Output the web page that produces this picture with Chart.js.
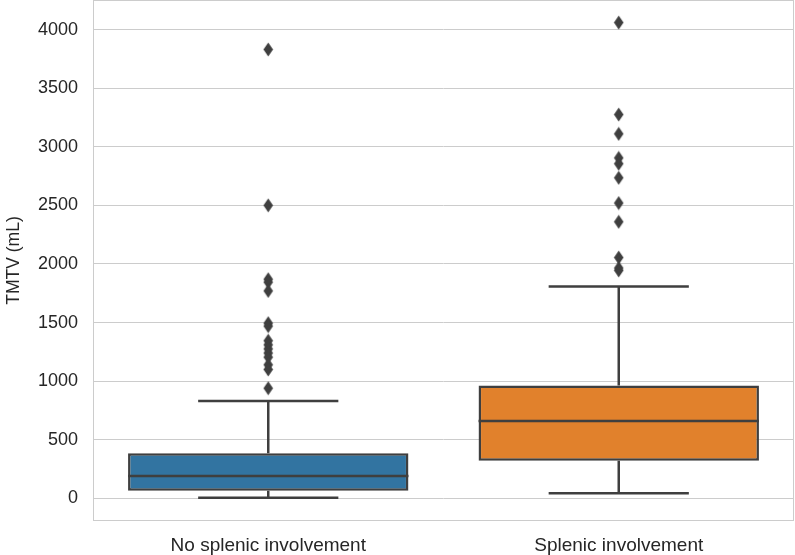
<!DOCTYPE html>
<html>
<head>
<meta charset="utf-8">
<script src="https://cdn.jsdelivr.net/npm/chart.js@4.4.1/dist/chart.umd.min.js"></script>
<style>
  html, body { margin: 0; padding: 0; background: #ffffff; }
  #wrap { width: 795px; height: 555px; }
</style>
</head>
<body>
<div id="wrap"><canvas id="box-chart" width="795" height="555"></canvas></div>
<script>
const groups = ["No splenic involvement", "Splenic involvement"];
const boxColors = ["#3274a1", "#e1812c"];

// box stats (mL)
const q1Values = [66, 322];
const q3Values = [385, 962];
const medianValues = [191, 660];
const whiskerLow = [6, 43];
const whiskerHigh = [831, 1807];

const outliersNoSplenic = [3830, 2500, 1870, 1845, 1770, 1495, 1470, 1345, 1310, 1275, 1240, 1205, 1140, 1100, 940];
const outliersSplenic = [4060, 3275, 3110, 2905, 2855, 2735, 2520, 2360, 2055, 1965, 1945];

const yTicks = [0, 500, 1000, 1500, 2000, 2500, 3000, 3500, 4000];

const lineColor = "#3f3f3f";
const gridColor = "#cccccc";
const textColor = "#262626";
const fontFamily = "Liberation Sans, Arial, sans-serif";

function makeDiamond() {
  const c = document.createElement("canvas");
  c.width = 11;
  c.height = 15;
  const g = c.getContext("2d");
  g.fillStyle = lineColor;
  g.beginPath();
  g.moveTo(5.5, 0.5);
  g.lineTo(10.3, 7.5);
  g.lineTo(5.5, 14.5);
  g.lineTo(0.7, 7.5);
  g.closePath();
  g.fill();
  return c;
}
const diamond = makeDiamond();

const boxPlugin = {
  id: "boxParts",
  beforeDatasetsDraw(chart) {
    const { ctx, chartArea, scales } = chart;
    const meta = chart.getDatasetMeta(0);
    ctx.save();
    // frame (spines)
    ctx.strokeStyle = gridColor;
    ctx.lineWidth = 1;
    ctx.strokeRect(chartArea.left + 0.5, chartArea.top + 0.5,
      chartArea.right - chartArea.left - 1, chartArea.bottom - chartArea.top - 1);

    // whiskers and caps
    ctx.strokeStyle = lineColor;
    ctx.lineWidth = 2.5;
    meta.data.forEach((bar, i) => {
      const x = bar.x;
      const capHalf = bar.width / 4;
      const yq1 = scales.y.getPixelForValue(q1Values[i]);
      const yq3 = scales.y.getPixelForValue(q3Values[i]);
      const yLo = scales.y.getPixelForValue(whiskerLow[i]);
      const yHi = scales.y.getPixelForValue(whiskerHigh[i]);
      ctx.beginPath();
      ctx.moveTo(x, yq3);
      ctx.lineTo(x, yHi);
      ctx.moveTo(x, yq1);
      ctx.lineTo(x, yLo);
      ctx.moveTo(x - capHalf, yHi);
      ctx.lineTo(x + capHalf, yHi);
      ctx.moveTo(x - capHalf, yLo);
      ctx.lineTo(x + capHalf, yLo);
      ctx.stroke();
    });
    ctx.restore();
  },
  afterDatasetDraw(chart, args) {
    if (args.index !== 0) return;
    const { ctx, scales } = chart;
    const meta = chart.getDatasetMeta(0);
    ctx.save();
    ctx.strokeStyle = lineColor;
    ctx.lineWidth = 2.5;
    meta.data.forEach((bar, i) => {
      const y = scales.y.getPixelForValue(medianValues[i]);
      ctx.beginPath();
      ctx.moveTo(bar.x - bar.width / 2, y);
      ctx.lineTo(bar.x + bar.width / 2, y);
      ctx.stroke();
    });
    ctx.restore();
  },
};

const canvas = document.getElementById("box-chart");
const ctx = canvas.getContext("2d");

new Chart(ctx, {
  type: "bar",
  plugins: [boxPlugin],
  data: {
    labels: groups,
    datasets: [
      {
        type: "bar",
        data: groups.map((g, i) => [q1Values[i], q3Values[i]]),
        backgroundColor: boxColors,
        borderColor: lineColor,
        borderWidth: 2.5,
        borderSkipped: false,
        barPercentage: 0.8,
        categoryPercentage: 1,
        order: 2,
      },
      {
        type: "line",
        data: outliersNoSplenic.map((v) => ({ x: groups[0], y: v })),
        showLine: false,
        pointStyle: diamond,
        pointRadius: 6,
        order: 1,
      },
      {
        type: "line",
        data: outliersSplenic.map((v) => ({ x: groups[1], y: v })),
        showLine: false,
        pointStyle: diamond,
        pointRadius: 6,
        order: 1,
      },
    ],
  },
  options: {
    responsive: false,
    animation: false,
    layout: { autoPadding: false, padding: { top: 0, right: 1, left: 0, bottom: 0 } },
    plugins: {
      legend: { display: false },
      tooltip: { enabled: false },
    },
    scales: {
      x: {
        type: "category",
        grid: { display: false },
        border: { display: false },
        ticks: {
          color: textColor,
          font: { family: fontFamily, size: 19 },
          padding: 5,
          maxRotation: 0,
        },
        afterFit: (scale) => {
          scale.height = 34;
          scale.paddingLeft = 0;
          scale.paddingRight = 0;
        },
      },
      y: {
        min: -193,
        max: 4252,
        afterBuildTicks: (scale) => {
          scale.ticks = yTicks.map((v) => ({ value: v }));
        },
        grid: { color: gridColor, lineWidth: 1, drawTicks: false },
        border: { display: false },
        ticks: {
          color: textColor,
          font: { family: fontFamily, size: 18 },
          padding: 15,
          callback: (value) => String(value),
        },
        title: {
          display: true,
          text: "TMTV (mL)",
          color: textColor,
          font: { family: fontFamily, size: 17.5 },
          padding: { top: 4, bottom: 0 },
        },
        afterFit: (scale) => {
          scale.width = 93;
          scale.paddingTop = 0;
          scale.paddingBottom = 0;
        },
      },
    },
  },
});
</script>
</body>
</html>
